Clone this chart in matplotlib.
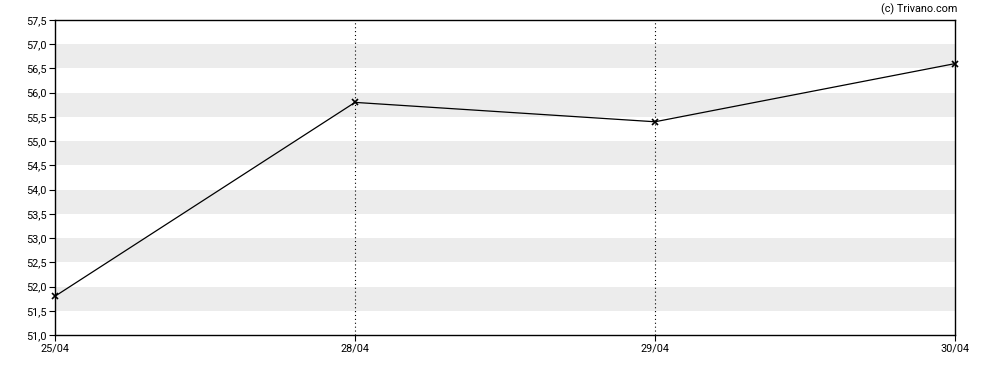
import matplotlib
matplotlib.use('Agg')
import matplotlib.pyplot as plt
from matplotlib.ticker import FuncFormatter

dates = ['25/04', '28/04', '29/04', '30/04']
valores = [51.8, 55.8, 55.4, 56.6]

plt.rcParams['font.family'] = ['Roboto', 'DejaVu Sans']

fig = plt.figure(figsize=(9.88, 3.70), dpi=100)
ax = fig.add_axes([55/988, 35/370, 900/988, 315/370])

ymin, ymax = 51.0, 57.5
# faixas cinzentas alternadas
y = 51.5
while y < ymax:
    ax.axhspan(y, y + 0.5, color='#ececec', lw=0, zorder=0)
    y += 1.0

x = list(range(len(dates)))
for xi in x[1:-1]:
    ax.axvline(xi, color='black', lw=0.8, ls=(0, (1, 2.5)), zorder=1)

ax.plot(x, valores, color='black', lw=0.9, marker='x', ms=4, mew=1.2, zorder=3, clip_on=False)

ax.set_xlim(0, len(dates) - 1)
ax.set_ylim(ymin, ymax)
ax.set_xticks(x)
ax.set_xticklabels(dates)
ax.set_yticks([51.0 + 0.5 * i for i in range(14)])
ax.yaxis.set_major_formatter(FuncFormatter(lambda v, p: f'{v:.1f}'.replace('.', ',')))
ax.tick_params(labelsize=7.8, length=4, width=0.8, colors='black', pad=2)
for s in ax.spines.values():
    s.set_linewidth(1.0)

fig.text(957/988, 1 - 9/370, '(c) Trivano.com', ha='right', va='center', fontsize=7.8)

fig.savefig('out.png', dpi=100)
